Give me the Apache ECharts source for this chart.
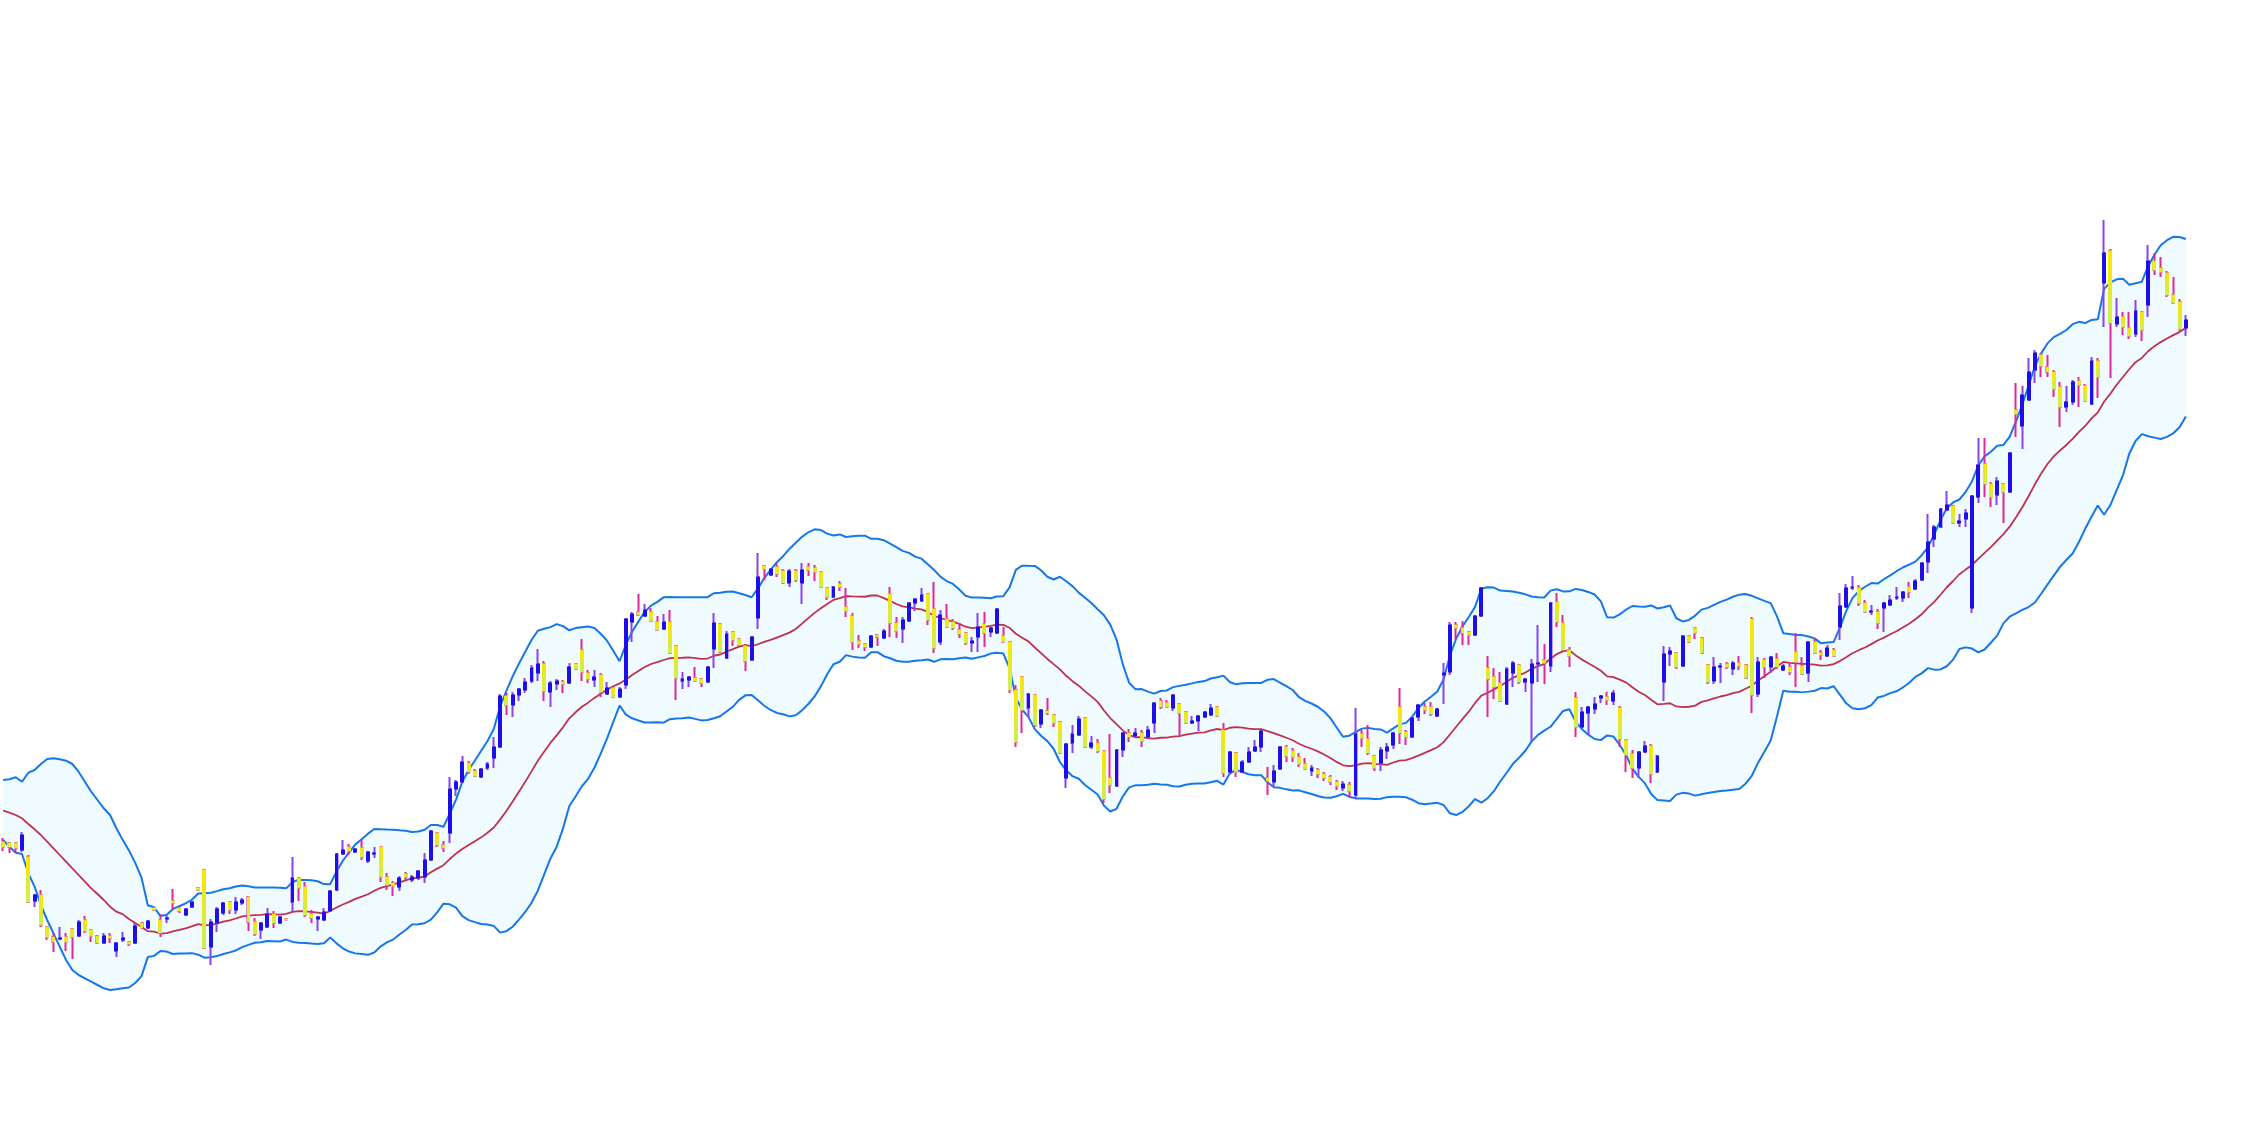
<!DOCTYPE html>
<html>
<head>
<meta charset="utf-8">
<script src="https://cdn.jsdelivr.net/npm/echarts@6/dist/echarts.min.js"></script>
<style>
html,body{margin:0;padding:0;background:#ffffff;}
#chart{width:2268px;height:1148px;}
</style>
</head>
<body>
<div id="chart"></div>
<script>
// Daily OHLC values (index 0 .. 347)
const openVals = [
35.8,35.7,35.7,35.0,34.3,29.9,30.5,27.3,26.3,26.1,26.3,27.1,26.4,28.0,27.0,26.4,25.7,26.4,24.9,26.0,
25.8,25.7,27.7,27.2,29.2,28.0,28.1,29.9,29.2,28.5,29.3,31.2,33.0,25.3,27.7,28.7,29.8,29.0,29.7,30.3,
27.8,27.0,27.3,28.6,27.7,28.1,29.8,32.2,31.3,28.6,28.1,28.0,28.9,31.0,34.6,35.3,34.8,35.2,33.9,34.6,
35.3,32.3,31.7,31.3,32.6,32.0,32.2,32.3,34.0,36.7,35.5,36.7,41.1,41.8,43.7,42.9,42.3,43.2,44.2,45.3,
50.4,49.5,50.5,51.0,51.9,52.7,53.6,50.8,51.6,51.8,51.7,53.6,55.0,52.7,52.0,52.5,50.6,51.2,50.3,51.5,
57.8,58.8,58.4,58.8,57.8,57.1,57.8,55.4,51.9,52.0,52.2,52.1,51.8,55.1,57.6,54.2,56.8,56.1,55.4,54.0,
58.2,63.4,62.5,63.3,62.9,61.7,62.9,61.7,63.3,63.2,62.8,61.2,60.3,61.6,59.3,58.4,55.9,55.6,55.3,56.5,
56.2,60.6,57.7,57.1,57.9,59.7,59.9,60.6,59.1,55.8,58.1,57.8,57.0,56.7,55.7,56.3,57.6,56.8,56.7,56.4,
55.8,51.0,52.3,49.2,50.5,47.6,48.9,48.5,47.8,42.2,45.7,46.5,48.2,45.3,45.7,44.9,42.2,41.4,45.0,46.7,
46.4,46.7,46.3,47.7,49.9,49.7,49.2,49.6,48.8,47.7,47.9,48.3,48.5,49.3,47.0,42.8,44.7,42.8,43.8,44.9,
45.3,42.2,41.8,43.1,45.3,44.9,44.3,43.6,42.9,43.0,42.6,42.3,41.8,41.2,41.5,40.5,46.6,46.1,44.4,43.7,
44.9,45.5,49.3,46.8,46.3,48.3,49.3,49.3,48.4,52.5,52.8,57.5,57.2,56.8,56.5,58.4,53.2,52.3,51.7,49.6,
52.7,53.5,51.8,51.7,53.6,54.0,53.4,59.8,57.7,55.0,50.2,47.3,48.7,49.1,50.2,50.3,49.9,49.2,46.0,44.6,
43.2,44.8,45.4,42.8,51.8,54.6,54.7,53.4,56.4,57.2,56.2,53.5,51.9,53.3,53.6,53.1,53.7,53.5,58.1,50.6,
54.0,53.3,54.1,53.0,53.3,54.8,53.4,52.7,55.8,54.7,54.4,55.0,57.3,59.3,61.2,61.2,59.7,58.8,58.8,59.2,
59.5,60.2,60.2,61.3,61.1,62.0,63.8,66.1,67.3,69.0,69.4,67.7,68.1,59.2,70.3,73.6,71.6,70.5,71.6,70.8,
79.0,77.4,80.0,83.0,84.5,83.3,82.8,81.3,79.3,79.8,81.9,81.4,79.6,83.9,91.7,94.9,87.6,88.3,87.2,86.6,
88.8,89.5,93.9,93.2,92.7,90.5,89.8,87.2
];
const closeVals = [
35.3,35.3,35.2,36.5,29.8,30.5,27.5,26.3,25.8,26.2,25.8,26.3,27.8,26.9,26.4,25.7,26.4,26.2,25.7,26.2,
25.6,27.4,27.2,27.9,29.0,26.7,28.2,29.7,28.9,29.1,29.8,31.0,25.2,27.8,29.1,29.7,29.0,29.8,30.0,27.8,
26.6,27.7,28.6,27.7,28.3,28.05,32.2,31.2,28.5,28.2,28.3,28.8,30.9,34.6,35.0,34.9,35.1,34.3,34.8,34.7,
32.3,31.5,31.4,32.2,32.3,32.3,32.9,34.0,36.9,35.5,35.2,41.1,41.8,43.8,42.8,42.4,43.1,43.6,45.3,50.4,
49.5,50.5,51.1,51.8,53.2,53.6,50.9,51.7,51.9,51.6,53.3,53.1,52.8,52.1,52.3,50.8,51.2,50.3,51.1,58.1,
58.6,58.5,59.0,57.9,57.0,57.8,54.7,52.2,52.1,52.3,51.9,51.7,53.3,57.7,54.8,56.6,56.0,55.5,53.9,56.3,
62.3,63.1,63.1,62.6,61.7,62.9,62.0,63.0,63.0,62.8,61.3,60.3,61.3,61.3,58.9,55.8,55.6,55.3,56.4,56.3,
56.9,57.7,56.9,58.0,59.7,60.1,60.5,58.0,55.2,58.5,57.3,57.2,56.6,55.7,55.9,57.3,56.7,57.2,59.1,55.8,
51.0,45.8,49.0,50.6,47.5,49.0,48.7,47.7,44.7,45.6,46.6,48.1,45.3,45.7,44.9,40.1,41.5,45.0,46.7,46.3,
46.7,45.9,47.0,49.7,49.3,49.3,50.5,48.7,47.7,47.9,48.4,48.8,49.2,48.4,42.7,44.8,42.8,43.8,44.8,45.3,
46.9,41.9,42.9,45.3,44.4,44.3,43.6,43.1,43.2,42.6,42.2,41.8,41.4,41.6,40.9,46.6,46.2,44.7,43.2,45.0,
45.3,46.7,46.7,46.3,48.2,49.5,49.0,48.6,49.1,52.7,57.5,57.2,56.7,56.5,58.4,61.2,52.1,51.3,49.9,53.1,
53.7,51.8,52.1,53.6,53.7,53.7,59.7,57.8,55.0,54.4,47.3,48.8,49.3,49.6,50.4,50.0,50.7,46.1,44.5,43.2,
44.8,45.4,42.6,44.4,54.6,54.9,53.3,56.4,55.8,56.7,54.7,51.8,53.3,53.4,53.3,53.7,53.4,52.2,50.5,53.8,
53.3,54.3,53.3,53.4,52.8,53.8,52.6,55.8,54.7,54.5,55.2,54.4,59.4,61.2,61.3,59.7,58.8,58.9,57.7,59.7,
60.0,60.3,60.8,60.8,61.9,63.7,65.8,67.3,69.1,69.5,67.7,67.9,68.7,70.4,73.5,71.6,70.3,71.9,70.8,74.7,
78.6,80.5,82.8,84.7,83.4,82.8,81.1,79.3,79.8,81.8,81.5,79.9,83.9,82.3,94.7,87.7,88.3,87.3,86.4,88.9,
87.0,93.9,93.0,92.8,90.5,89.7,87.1,88.0
];
const lowVals = [
34.9,34.7,34.7,34.8,29.7,29.3,27.3,26.0,24.8,26.0,24.9,24.1,26.3,26.7,25.8,25.6,25.6,25.7,24.3,25.8,
25.4,25.6,27.1,27.1,28.9,26.3,27.7,29.1,28.7,28.4,29.2,30.9,25.1,23.5,26.8,28.5,28.6,28.6,29.5,26.9,
26.4,26.1,27.2,27.2,27.6,28.0,28.8,29.9,28.3,27.7,26.9,27.9,28.8,30.9,34.5,34.5,34.7,34.0,33.7,34.2,
31.8,31.0,30.4,30.9,32.0,31.8,32.0,31.7,33.9,35.3,34.8,35.7,40.4,41.7,42.6,42.3,42.2,43.0,43.2,45.2,
48.5,48.3,49.9,50.7,51.7,51.9,49.9,49.3,51.0,50.7,51.6,53.0,51.9,51.7,51.3,50.3,50.6,50.2,50.2,51.1,
55.8,58.4,58.3,57.8,56.9,57.0,54.6,50.0,51.1,51.3,51.8,51.3,51.8,53.2,54.7,54.1,55.4,55.4,52.9,53.9,
57.1,62.0,62.4,62.3,61.6,61.3,61.8,59.6,62.4,61.9,61.3,60.0,60.2,60.9,58.3,55.0,55.2,54.9,55.2,55.4,
56.1,56.3,56.2,55.7,57.8,58.9,59.9,57.5,54.7,55.5,57.2,57.0,56.2,55.5,54.8,54.8,55.3,56.3,56.6,55.8,
50.7,45.3,46.7,48.3,47.3,47.2,48.5,47.3,44.6,41.2,44.7,46.4,45.3,45.1,44.7,39.7,40.7,41.3,44.3,45.8,
46.3,45.3,46.2,46.7,49.1,49.2,48.9,46.4,47.6,47.6,46.9,48.3,48.4,48.3,42.3,42.7,42.3,42.7,43.7,44.9,
44.8,40.5,41.3,43.1,43.8,43.8,43.3,43.0,42.4,42.2,41.9,41.5,41.0,40.9,40.2,40.1,45.3,44.5,42.9,42.9,
44.1,45.1,45.6,45.5,46.2,47.9,48.6,48.4,48.3,49.6,52.5,56.0,55.5,55.5,56.4,58.3,48.3,50.1,49.8,49.5,
51.3,51.6,50.8,45.8,51.8,51.6,52.8,57.3,54.9,53.3,46.3,47.3,46.5,48.6,49.7,49.5,49.5,45.3,42.8,42.2,
42.2,44.7,41.7,42.8,49.9,53.4,53.1,53.3,55.7,56.1,54.6,51.6,51.6,51.7,53.1,52.5,53.0,52.1,48.7,50.3,
52.2,52.7,53.1,52.9,52.5,51.3,52.5,51.8,54.6,54.0,54.3,54.3,56.0,59.3,61.0,59.4,58.7,58.5,57.1,56.8,
59.4,60.0,59.8,60.2,61.0,62.0,62.7,65.3,67.2,68.9,67.6,67.3,67.3,58.7,69.7,70.3,69.3,69.5,67.7,70.7,
76.3,75.1,79.9,81.7,82.3,82.3,80.3,77.3,78.8,79.5,79.3,79.8,79.5,80.2,87.3,82.2,87.3,86.5,86.1,86.3,
85.9,88.3,92.5,92.3,90.3,89.6,86.9,86.4
];
const highVals = [
36.2,35.8,35.8,36.8,34.5,30.6,31.0,27.4,26.7,27.3,26.7,27.2,28.0,28.4,27.1,26.5,26.7,26.7,25.8,26.8,
25.9,27.7,27.8,28.0,29.3,28.6,28.5,31.1,29.5,29.2,29.9,31.3,33.1,28.1,29.3,29.8,29.9,30.3,30.2,30.4,
28.2,27.8,29.2,28.9,28.4,28.15,34.3,32.3,31.8,29.0,28.3,29.2,31.0,34.7,36.0,35.6,35.2,36.0,34.9,35.3,
35.4,32.7,31.9,32.4,32.8,32.5,33.0,34.7,37.0,36.8,35.9,42.3,42.0,44.4,43.9,43.1,43.2,43.8,46.3,50.6,
50.7,50.8,51.2,52.2,53.5,55.1,53.9,51.9,52.1,52.0,53.7,53.7,56.1,53.0,53.0,52.7,51.8,51.3,51.3,58.2,
58.8,60.6,59.6,59.2,58.4,58.6,59.0,55.5,52.8,52.4,53.3,52.2,53.4,58.7,57.7,56.9,56.9,56.2,55.6,56.4,
64.7,63.5,63.2,63.7,63.1,63.1,63.1,63.7,63.7,63.5,62.9,61.3,61.4,61.9,61.2,58.7,56.5,55.7,56.5,56.6,
57.1,61.3,58.3,58.3,59.7,60.1,61.2,60.7,61.8,59.0,59.6,58.1,57.7,56.8,56.3,58.7,58.8,57.3,59.2,57.3,
55.9,51.5,52.3,50.7,50.6,49.1,50.2,48.6,47.9,45.7,47.5,48.4,48.3,46.4,46.1,45.0,46.6,45.1,46.8,47.1,
47.2,47.0,47.4,49.7,50.2,50.0,50.6,49.7,48.9,48.4,48.5,48.9,49.6,49.4,47.7,44.9,44.8,44.0,45.3,46.0,
47.0,43.3,43.5,45.4,45.5,45.2,44.7,44.2,43.5,43.2,42.8,42.5,42.0,41.9,41.8,49.2,47.0,47.5,44.5,45.3,
45.7,46.8,51.2,47.0,48.3,49.6,49.7,49.8,49.2,53.7,57.8,57.8,57.9,56.9,58.5,61.3,54.4,53.2,52.8,53.3,
53.9,53.6,52.2,54.1,57.5,55.6,59.8,60.7,58.5,55.3,50.8,49.3,49.3,50.3,50.5,50.8,51.0,49.4,46.1,45.0,
44.9,45.9,45.6,44.5,55.4,55.3,54.8,56.5,56.5,57.3,56.2,53.6,54.3,53.7,53.8,53.9,54.4,53.6,58.3,54.3,
54.2,54.3,54.7,53.6,53.8,56.7,54.3,55.9,56.2,55.0,55.5,55.2,60.7,61.6,62.4,61.5,60.0,59.5,59.1,59.8,
60.5,61.3,60.9,61.8,62.1,63.8,68.6,67.5,69.2,70.9,69.5,68.6,69.1,70.5,76.2,76.2,71.8,72.3,71.7,74.8,
81.7,81.4,84.2,85.0,84.7,84.5,83.0,81.8,81.4,82.0,82.3,81.6,84.3,84.2,98.0,95.1,90.2,88.8,88.8,90.0,
88.9,95.5,94.7,94.3,92.9,92.3,90.1,88.5
];
// Band values read at the first 19 candles (before a full 20-day window exists)
const headUpper = [42.0,42.07,42.27,41.83,42.73,43.0,43.6,44.1,44.17,44.07,43.93,43.6,42.83,41.83,40.83,40.0,39.17,38.5,37.17];
const headMid   = [38.93,38.73,38.5,38.17,37.6,37.07,36.5,35.83,35.17,34.5,33.83,33.17,32.5,31.83,31.17,30.6,30.0,29.33,28.83];
const headLower = [36.0,35.33,34.73,34.6,32.67,31.33,29.5,28.0,26.67,25.33,24.0,23.0,22.5,22.17,21.83,21.5,21.17,21.0,21.07];

const N = closeVals.length;
const categories = Array.from({length: N}, (_, i) => 'D' + (i + 1));
const candles = [];   // full OHLC: draws the wicks
const bodies = [];    // same open/close, range clipped to the body: draws the solid bodies
for (let i = 0; i < N; i++) {
  const o = openVals[i], c = closeVals[i];
  candles.push([o, c, lowVals[i], highVals[i]]);
  bodies.push([o, c, Math.min(o, c), Math.max(o, c)]);
}

// Bollinger bands (20, 2)
const PERIOD = 20, K = 2;
const upper = [], mid = [], lower = [], width = [];
for (let i = 0; i < N; i++) {
  let u, m, l;
  if (i < PERIOD - 1) {
    u = headUpper[i]; m = headMid[i]; l = headLower[i];
  } else {
    let s = 0;
    for (let j = i - PERIOD + 1; j <= i; j++) s += closeVals[j];
    m = s / PERIOD;
    let v = 0;
    for (let j = i - PERIOD + 1; j <= i; j++) v += (closeVals[j] - m) * (closeVals[j] - m);
    const sd = Math.sqrt(v / PERIOD);
    u = m + K * sd; l = m - K * sd;
  }
  upper.push(+u.toFixed(3)); mid.push(+m.toFixed(3)); lower.push(+l.toFixed(3));
  width.push(+(u - l).toFixed(3));
}

const chart = echarts.init(document.getElementById('chart'), null, {renderer: 'canvas'});
const downFill = {
  type: 'linear', x: 0, y: 0, x2: 0, y2: 1,
  colorStops: [{offset: 0, color: '#fce500'}, {offset: 1, color: '#cdee58'}]
};
chart.setOption({
  animation: false,
  backgroundColor: '#ffffff',
  grid: {left: 0, right: 79, top: 0, bottom: 0, containLabel: false},
  xAxis: {type: 'category', data: categories, show: false, boundaryGap: true},
  yAxis: {type: 'value', min: 5.2, max: 120, show: false, splitLine: {show: false}},
  series: [
    {name: 'bandBase', type: 'line', data: lower, stack: 'band', symbol: 'none',
     lineStyle: {width: 0, opacity: 0}, silent: true, z: 1},
    {name: 'bandFill', type: 'line', data: width, stack: 'band', symbol: 'none',
     lineStyle: {width: 0, opacity: 0}, areaStyle: {color: '#effbfe', opacity: 1}, silent: true, z: 1},
    {name: 'Upper', type: 'line', data: upper, symbol: 'none',
     lineStyle: {color: '#1677e8', width: 2}, z: 3},
    {name: 'Lower', type: 'line', data: lower, symbol: 'none',
     lineStyle: {color: '#1677e8', width: 2}, z: 3},
    {name: 'MA20', type: 'line', data: mid, symbol: 'none',
     lineStyle: {color: '#c2304f', width: 1.8}, z: 3},
    {name: 'Wick', type: 'candlestick', data: candles, barWidth: 1.5, z: 5, silent: true,
     itemStyle: {
       color: '#8a44ee', color0: '#e0289c',
       borderColor: '#8a44ee', borderColor0: '#e0289c', borderWidth: 2
     }},
    {name: 'Body', type: 'candlestick', data: bodies, barWidth: 3.4, z: 6,
     itemStyle: {
       color: '#1d0fe6', color0: downFill,
       borderColor: '#1d0fe6', borderColor0: downFill, borderWidth: 1
     }}
  ]
});
</script>
</body>
</html>
